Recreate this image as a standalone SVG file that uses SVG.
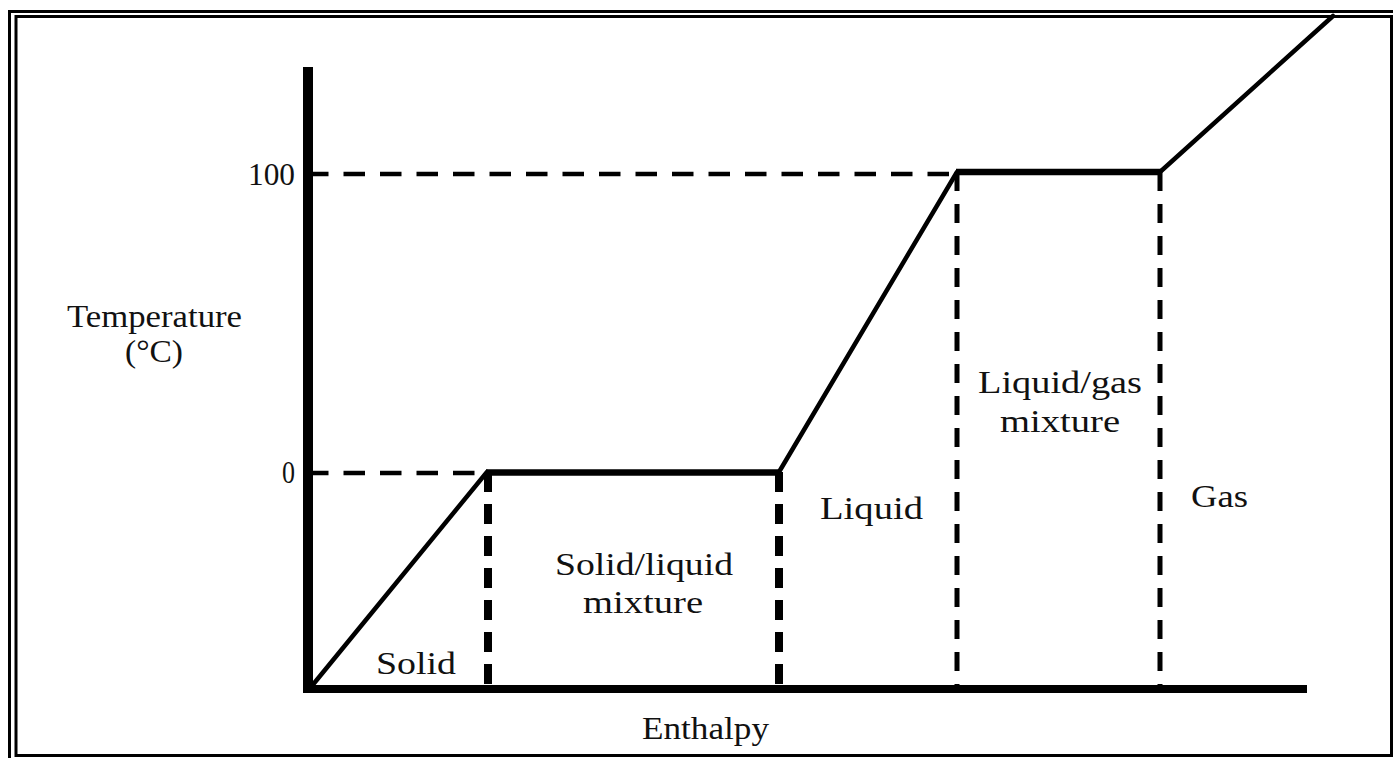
<svg xmlns="http://www.w3.org/2000/svg" width="1393" height="758" viewBox="0 0 1393 758">
<style>
.frame{fill:none;stroke:#000;stroke-width:3}
.axis{stroke:#000;fill:none;stroke-linecap:butt}
.curve{stroke:#000;fill:none;stroke-width:4.5;stroke-linecap:round}
.plat{stroke:#000;fill:none;stroke-width:6.5}
.hdash{stroke:#000;fill:none;stroke-width:4.5;stroke-dasharray:21.5 15}
.vdash{stroke:#000;fill:none;stroke-width:8;stroke-dasharray:20 12}
.vdash2{stroke:#000;fill:none;stroke-width:5;stroke-dasharray:19 13}
text{font-family:"Liberation Serif","Times New Roman",serif;font-size:32px;fill:#111}
</style>
<rect width="1393" height="758" fill="#fff"/>
<g id="frame">
<path class="frame" d="M9.5,758 V11.5 H1393"/>
<path class="frame" d="M16,755.5 V16.5 H1391.5 V755.5 Z"/>
</g>
<g id="connectors">
<path class="hdash" d="M307,174 H950"/>
<path class="hdash" d="M307,473 H487"/>
<path class="vdash" d="M488,472 V685"/>
<path class="vdash" d="M779,472 V685"/>
<path class="vdash2" d="M957,172 V685"/>
<path class="vdash2" d="M1160,172 V685"/>
<path class="curve" d="M311,687 L487,472"/>
<path class="plat" d="M486,472.5 H780"/>
<path class="curve" d="M779,472 L957,172"/>
<path class="plat" d="M956,172 H1161"/>
<path class="curve" d="M1160,172 L1333,16"/>
<path class="axis" stroke-width="10" d="M308,67 V693"/>
<path class="axis" stroke-width="8" d="M303,689 H1307"/>
</g>
<g id="labels">
<text x="248" y="185" textLength="47" lengthAdjust="spacingAndGlyphs">100</text>
<text x="282" y="483" textLength="13" lengthAdjust="spacingAndGlyphs">0</text>
<text x="67" y="327" textLength="175" lengthAdjust="spacingAndGlyphs">Temperature</text>
<text x="125" y="362" textLength="58" lengthAdjust="spacingAndGlyphs">(°C)</text>
<text x="642" y="739" textLength="127" lengthAdjust="spacingAndGlyphs">Enthalpy</text>
</g>
<g id="regions">
<text x="376" y="674" textLength="80" lengthAdjust="spacingAndGlyphs">Solid</text>
<text x="555" y="575" textLength="178" lengthAdjust="spacingAndGlyphs">Solid/liquid</text>
<text x="583" y="613" textLength="120" lengthAdjust="spacingAndGlyphs">mixture</text>
<text x="820" y="519" textLength="103" lengthAdjust="spacingAndGlyphs">Liquid</text>
<text x="978" y="393" textLength="164" lengthAdjust="spacingAndGlyphs">Liquid/gas</text>
<text x="1000" y="432" textLength="120" lengthAdjust="spacingAndGlyphs">mixture</text>
<text x="1191" y="507" textLength="57" lengthAdjust="spacingAndGlyphs">Gas</text>
</g>
</svg>
